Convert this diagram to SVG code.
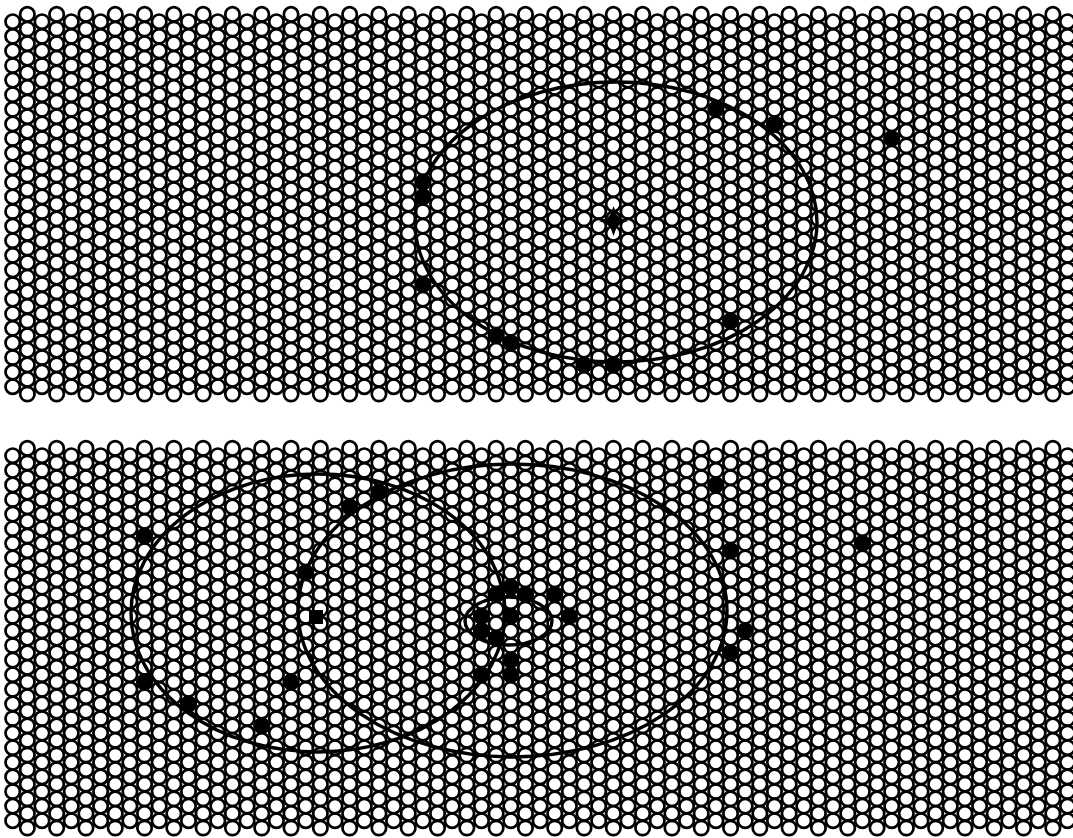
<svg xmlns="http://www.w3.org/2000/svg" xmlns:xlink="http://www.w3.org/1999/xlink" width="1073" height="838" viewBox="0 0 1073 838">
<style>
.c{fill:none;stroke:#000;stroke-width:2.7}
.e{fill:none;stroke:#000;stroke-width:3.4}
.d{fill:#000;stroke:#000;stroke-width:1}
</style>
<defs>
<g id="colE">
<circle class="c" cx="0" cy="21.7" r="7.2"/><circle class="c" cx="0" cy="36.3" r="7.2"/><circle class="c" cx="0" cy="50.9" r="7.2"/><circle class="c" cx="0" cy="65.5" r="7.2"/><circle class="c" cx="0" cy="80.1" r="7.2"/><circle class="c" cx="0" cy="94.7" r="7.2"/><circle class="c" cx="0" cy="109.3" r="7.2"/><circle class="c" cx="0" cy="123.9" r="7.2"/><circle class="c" cx="0" cy="138.5" r="7.2"/><circle class="c" cx="0" cy="153.1" r="7.2"/><circle class="c" cx="0" cy="167.7" r="7.2"/><circle class="c" cx="0" cy="182.3" r="7.2"/><circle class="c" cx="0" cy="196.9" r="7.2"/><circle class="c" cx="0" cy="211.5" r="7.2"/><circle class="c" cx="0" cy="226.1" r="7.2"/><circle class="c" cx="0" cy="240.7" r="7.2"/><circle class="c" cx="0" cy="255.3" r="7.2"/><circle class="c" cx="0" cy="269.9" r="7.2"/><circle class="c" cx="0" cy="284.5" r="7.2"/><circle class="c" cx="0" cy="299.1" r="7.2"/><circle class="c" cx="0" cy="313.7" r="7.2"/><circle class="c" cx="0" cy="328.3" r="7.2"/><circle class="c" cx="0" cy="342.9" r="7.2"/><circle class="c" cx="0" cy="357.5" r="7.2"/><circle class="c" cx="0" cy="372.1" r="7.2"/><circle class="c" cx="0" cy="386.7" r="7.2"/>
</g>
<g id="colO">
<circle class="c" cx="0" cy="14.4" r="7.2"/><circle class="c" cx="0" cy="29" r="7.2"/><circle class="c" cx="0" cy="43.6" r="7.2"/><circle class="c" cx="0" cy="58.2" r="7.2"/><circle class="c" cx="0" cy="72.8" r="7.2"/><circle class="c" cx="0" cy="87.4" r="7.2"/><circle class="c" cx="0" cy="102" r="7.2"/><circle class="c" cx="0" cy="116.6" r="7.2"/><circle class="c" cx="0" cy="131.2" r="7.2"/><circle class="c" cx="0" cy="145.8" r="7.2"/><circle class="c" cx="0" cy="160.4" r="7.2"/><circle class="c" cx="0" cy="175" r="7.2"/><circle class="c" cx="0" cy="189.6" r="7.2"/><circle class="c" cx="0" cy="204.2" r="7.2"/><circle class="c" cx="0" cy="218.8" r="7.2"/><circle class="c" cx="0" cy="233.4" r="7.2"/><circle class="c" cx="0" cy="248" r="7.2"/><circle class="c" cx="0" cy="262.6" r="7.2"/><circle class="c" cx="0" cy="277.2" r="7.2"/><circle class="c" cx="0" cy="291.8" r="7.2"/><circle class="c" cx="0" cy="306.4" r="7.2"/><circle class="c" cx="0" cy="321" r="7.2"/><circle class="c" cx="0" cy="335.6" r="7.2"/><circle class="c" cx="0" cy="350.2" r="7.2"/><circle class="c" cx="0" cy="364.8" r="7.2"/><circle class="c" cx="0" cy="379.4" r="7.2"/><circle class="c" cx="0" cy="394" r="7.2"/>
</g>
<g id="pair"><use xlink:href="#colE" href="#colE"/><use xlink:href="#colO" href="#colO" x="14.65"/></g>
<g id="panel">
<use href="#pair" x="12.7"/><use href="#pair" x="42"/><use href="#pair" x="71.3"/><use href="#pair" x="100.6"/><use href="#pair" x="129.9"/><use href="#pair" x="159.2"/><use href="#pair" x="188.5"/><use href="#pair" x="217.8"/><use href="#pair" x="247.1"/><use href="#pair" x="276.4"/><use href="#pair" x="305.7"/><use href="#pair" x="335"/><use href="#pair" x="364.3"/><use href="#pair" x="393.6"/><use href="#pair" x="422.9"/><use href="#pair" x="452.2"/><use href="#pair" x="481.5"/><use href="#pair" x="510.8"/><use href="#pair" x="540.1"/><use href="#pair" x="569.4"/><use href="#pair" x="598.7"/><use href="#pair" x="628"/><use href="#pair" x="657.3"/><use href="#pair" x="686.6"/><use href="#pair" x="715.9"/><use href="#pair" x="745.2"/><use href="#pair" x="774.5"/><use href="#pair" x="803.8"/><use href="#pair" x="833.1"/><use href="#pair" x="862.4"/><use href="#pair" x="891.7"/><use href="#pair" x="921"/><use href="#pair" x="950.3"/><use href="#pair" x="979.6"/><use href="#pair" x="1008.9"/><use href="#pair" x="1038.2"/><use href="#colE" x="1067.5"/>
</g>
</defs>
<g id="lattice-top"><use href="#panel"/></g>
<g id="lattice-bottom"><use href="#panel" y="434"/></g>
<g id="top-cluster">
<ellipse class="e" cx="616" cy="222" rx="201" ry="140"/>
<path id="top-center" d="M613.5,206 L617.5,217 L628,221 L617.5,225 L613.5,236 L609.5,225 L599,221 L609.5,217 Z" fill="#000"/>
<circle class="d" cx="613.5" cy="221" r="6.5"/>
<circle class="d" cx="715.9" cy="109.3" r="7.8"/>
<circle class="d" cx="774.5" cy="123.9" r="7.8"/>
<circle class="d" cx="891.7" cy="138.5" r="7.8"/>
<circle class="d" cx="422.9" cy="182.3" r="7.8"/>
<circle class="d" cx="422.9" cy="196.9" r="7.8"/>
<circle class="d" cx="422.9" cy="284.5" r="7.8"/>
<circle class="d" cx="730.55" cy="321" r="7.8"/>
<circle class="d" cx="496.15" cy="335.6" r="7.8"/>
<circle class="d" cx="510.8" cy="342.9" r="7.8"/>
<circle class="d" cx="584.05" cy="364.8" r="7.8"/>
<circle class="d" cx="613.35" cy="364.8" r="7.8"/>
</g>
<g id="bottom-clusters">
<ellipse class="e" cx="318" cy="613" rx="187" ry="139"/>
<ellipse class="e" cx="512.5" cy="610.5" rx="214.5" ry="146.5"/>
<ellipse class="e" cx="508.5" cy="621" rx="43.5" ry="24"/>
<rect x="309" y="610" width="14" height="14" fill="#000"/>
<circle class="d" cx="715.9" cy="484.9" r="7.8"/>
<circle class="d" cx="144.55" cy="536" r="7.8"/>
<circle class="d" cx="349.65" cy="506.8" r="7.8"/>
<circle class="d" cx="378.95" cy="492.2" r="7.8"/>
<circle class="d" cx="730.55" cy="550.6" r="7.8"/>
<circle class="d" cx="862.4" cy="543.3" r="7.8"/>
<circle class="d" cx="305.7" cy="572.5" r="7.8"/>
<circle class="d" cx="144.55" cy="682" r="7.8"/>
<circle class="d" cx="291.05" cy="682" r="7.8"/>
<circle class="d" cx="188.5" cy="703.9" r="7.8"/>
<circle class="d" cx="261.75" cy="725.8" r="7.8"/>
<circle class="d" cx="745.2" cy="630.9" r="7.8"/>
<circle class="d" cx="730.55" cy="652.8" r="7.8"/>
<circle class="d" cx="510.8" cy="587.1" r="7.8"/>
<circle class="d" cx="496.15" cy="594.4" r="7.8"/>
<circle class="d" cx="525.45" cy="594.4" r="7.8"/>
<circle class="d" cx="554.75" cy="594.4" r="7.8"/>
<circle class="d" cx="569.4" cy="616.3" r="7.8"/>
<circle class="d" cx="481.5" cy="616.3" r="7.8"/>
<circle class="d" cx="510.8" cy="616.3" r="7.8"/>
<circle class="d" cx="481.5" cy="630.9" r="7.8"/>
<circle class="d" cx="496.15" cy="638.2" r="7.8"/>
<circle class="d" cx="510.8" cy="660.1" r="7.8"/>
<circle class="d" cx="510.8" cy="674.7" r="7.8"/>
<circle class="d" cx="481.5" cy="674.7" r="7.8"/>
</g>
</svg>
